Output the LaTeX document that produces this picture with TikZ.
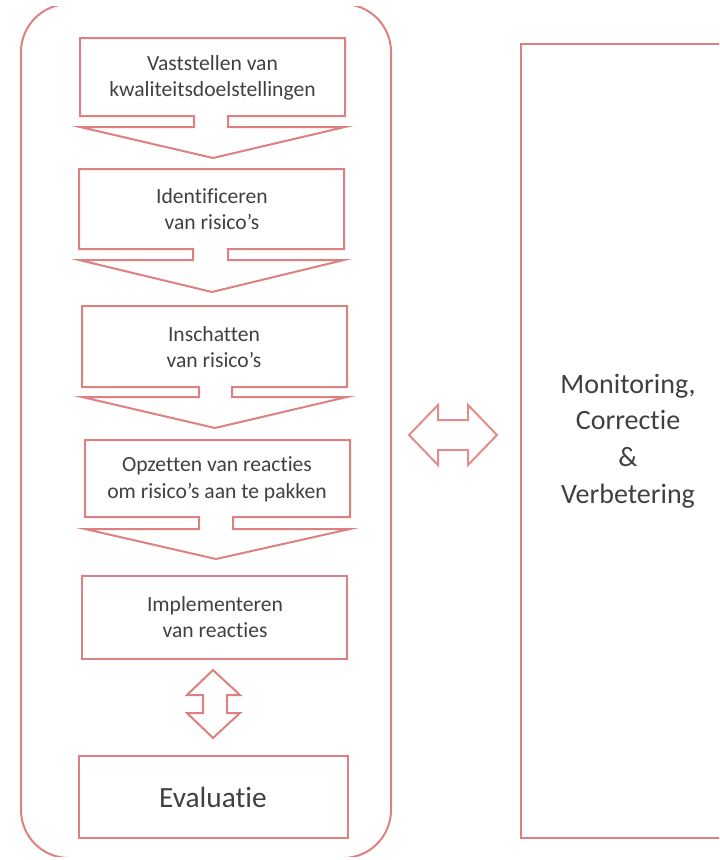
\documentclass[tikz,border=0pt]{standalone}
\usepackage{fontspec}
\setmainfont[Ligatures=NoCommon]{Carlito}

\tikzset{every picture/.style={line width=0.75pt}}
\tikzset{
  kaderlijn/.style={color={rgb, 255:red, 223; green, 128; blue, 128 }, draw opacity=1, line width=1.5pt, line join=miter},
  pijllijn/.style={color={rgb, 255:red, 226; green, 140; blue, 140 }, draw opacity=1, line width=1.5pt},
  staptekst/.style={text={rgb, 255:red, 64; green, 64; blue, 64 }, inner sep=0.75pt, align=center, font=\fontsize{16.2}{20}\selectfont},
  grotetekst/.style={text={rgb, 255:red, 64; green, 64; blue, 64 }, inner sep=0.75pt, align=center, font=\fontsize{21}{27.5}\selectfont}
}

\begin{document}
\begin{tikzpicture}[x=0.75pt,y=0.75pt,yscale=-1,xscale=1]
	%set diagram: 719 x 860
	\path (0,0) rectangle (719,860);
	
	\begin{scope}
	\clip (0,6) rectangle (719,856);
	%Rounded Rect: process frame
	\draw [kaderlijn] (21,52) .. controls (21,25.5) and (42.5,4) .. (69,4) -- (343,4) .. controls (369.5,4) and (391,25.5) .. (391,52) -- (391,810) .. controls (391,836.5) and (369.5,858) .. (343,858) -- (69,858) .. controls (42.5,858) and (21,836.5) .. (21,810) -- cycle ;
	%Shape: Rectangle, monitoring
	\draw [kaderlijn] (521,44) -- (736,44) -- (736,838) -- (521,838) -- cycle ;
	\end{scope}
	
	%Shape: Down Arrow Callout 1
	\draw [kaderlijn] (80,38) -- (345,38) -- (345,116) -- (228,116) -- (228,127) -- (345,127) -- (213,158) -- (80,127) -- (194,127) -- (194,116) -- (80,116) -- cycle ;
	%Shape: Down Arrow Callout 2
	\draw [kaderlijn] (79,169) -- (344,169) -- (344,249) -- (228,249) -- (228,260) -- (344,260) -- (212,292) -- (79,260) -- (193,260) -- (193,249) -- (79,249) -- cycle ;
	%Shape: Down Arrow Callout 3
	\draw [kaderlijn] (82,306) -- (347,306) -- (347,387) -- (232,387) -- (232,397) -- (347,397) -- (215,428) -- (82,397) -- (199,397) -- (199,387) -- (82,387) -- cycle ;
	%Shape: Down Arrow Callout 4
	\draw [kaderlijn] (85,440) -- (350,440) -- (350,517) -- (233,517) -- (233,529) -- (350,529) -- (216,559) -- (85,529) -- (199,529) -- (199,517) -- (85,517) -- cycle ;
	%Shape: Rectangle 5
	\draw [kaderlijn] (82,576) -- (347,576) -- (347,659) -- (82,659) -- cycle ;
	%Shape: Up-Down Arrow
	\draw [kaderlijn] (213,670) -- (240,695) -- (227,695) -- (227,713) -- (240,713) -- (213,738) -- (187,713) -- (203,713) -- (203,695) -- (187,695) -- cycle ;
	%Shape: Rectangle, evaluatie
	\draw [kaderlijn] (79,756) -- (348,756) -- (348,838) -- (79,838) -- cycle ;
	%Shape: Left-Right Arrow
	\draw [pijllijn] (409,435) -- (438,405) -- (438,420) -- (468,420) -- (468,405) -- (497,435) -- (468,465) -- (468,450) -- (438,450) -- (438,465) -- cycle ;
	
	% Text Node
	\draw (212.5,78) node (vaststellen) [staptekst] {Vaststellen van\\kwaliteitsdoelstellingen};
	% Text Node
	\draw (212,209) node (identificeren) [staptekst] {Identificeren\\van risico's};
	% Text Node
	\draw (214,347) node (inschatten) [staptekst] {Inschatten\\van risico's};
	% Text Node
	\draw (217,479) node (opzetten) [staptekst] {Opzetten van reacties\\om risico's aan te pakken};
	% Text Node
	\draw (215,617) node (implementeren) [staptekst] {Implementeren\\van reacties};
	% Text Node
	\draw (213,797) node (evaluatie) [grotetekst, font=\fontsize{22}{25}\selectfont] {Evaluatie};
	% Text Node
	\draw (628,441) node (monitoring) [grotetekst] {Monitoring,\\Correctie\\\&\\Verbetering};
	
\end{tikzpicture}
\end{document}
